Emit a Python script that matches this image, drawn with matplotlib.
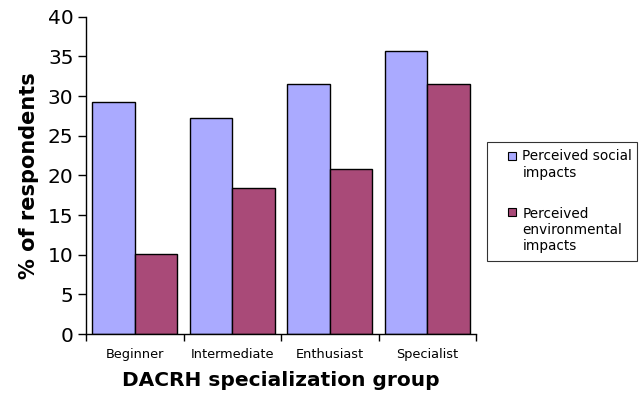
import matplotlib
matplotlib.use("Agg")
import matplotlib.pyplot as plt
import numpy as np
from matplotlib.patches import Patch, Rectangle
from matplotlib.legend_handler import HandlerPatch

categories = ["Beginner", "Intermediate", "Enthusiast", "Specialist"]
social = [29.3, 27.2, 31.5, 35.7]
environmental = [10.1, 18.4, 20.8, 31.5]
series_labels = ["Perceived social\nimpacts", "Perceived\nenvironmental\nimpacts"]
y_ticks = [0, 5, 10, 15, 20, 25, 30, 35, 40]

social_color = "#AAAAFF"
env_color = "#A94A78"

LEG_FONT = 9.8
LEG_LINESPACING = 1.2
SWATCH = 0.6  # swatch size in font-size units

fig = plt.figure(figsize=(6.39, 4.01), dpi=100)
ax = fig.add_axes([86 / 639, 67 / 401, 390 / 639, 317.3 / 401])

x = np.arange(len(categories))
w = 0.436
ax.bar(x - w / 2, social, width=w, color=social_color, edgecolor="black", linewidth=1.0)
ax.bar(x + w / 2, environmental, width=w, color=env_color, edgecolor="black", linewidth=1.0)

ax.set_xlim(-0.5, len(categories) - 0.5)
ax.set_ylim(0, 40)
ax.set_yticks(y_ticks)
ax.tick_params(axis="y", labelsize=14.5, length=6, width=1, direction="out", pad=3)

ax.set_xticks(x)
ax.set_xticklabels(categories, fontsize=9.3)
ax.tick_params(axis="x", which="major", length=0, pad=10)
ax.set_xticks(np.arange(-0.5, len(categories), 1.0), minor=True)
ax.tick_params(axis="x", which="minor", length=5, width=1, direction="out")

for side in ("top", "right"):
    ax.spines[side].set_visible(False)
for side in ("left", "bottom"):
    ax.spines[side].set_color("black")
    ax.spines[side].set_linewidth(1.0)

ax.set_ylabel("% of respondents", fontsize=15, fontweight="bold", labelpad=6)
ax.set_xlabel("DACRH specialization group", fontsize=14.5, fontweight="bold", labelpad=7)


def top_aligned_square(nlines):
    # small square at the right of the handle box, level with the label's first line
    def make(legend, orig_handle, xdescent, ydescent, width, height, fontsize):
        shift = (nlines - 1) / 2 * fontsize * 1.17 * LEG_LINESPACING
        size = SWATCH * fontsize
        return Rectangle((-xdescent + width - size, -ydescent + shift), size, size)
    return HandlerPatch(patch_func=make)


handles = [Patch(facecolor=social_color, edgecolor="black", linewidth=0.8),
           Patch(facecolor=env_color, edgecolor="black", linewidth=0.8)]
handler_map = {h: top_aligned_square(lbl.count("\n") + 1)
               for h, lbl in zip(handles, series_labels)}
leg = fig.legend(handles, series_labels, loc="upper left", mode="expand",
                 bbox_to_anchor=(487 / 639, 0, 150 / 639, 1 - 142 / 401),
                 fontsize=LEG_FONT, frameon=True, fancybox=False,
                 handlelength=1.6, handleheight=SWATCH, handletextpad=0.45,
                 labelspacing=2.0, borderpad=0.55, borderaxespad=0,
                 handler_map=handler_map)
leg.get_frame().set_edgecolor("black")
leg.get_frame().set_linewidth(0.8)
for t in leg.get_texts():
    t.set_linespacing(LEG_LINESPACING)

fig.savefig("out.png", dpi=100)
